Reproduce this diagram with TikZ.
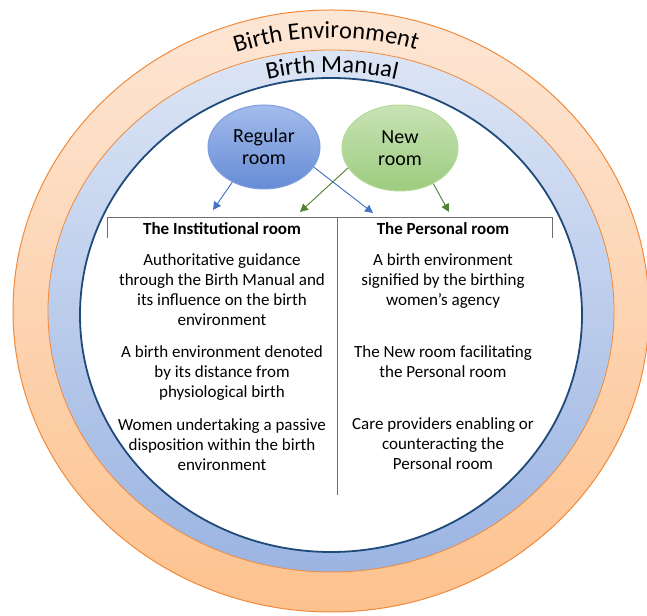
\documentclass[tikz,border=0pt]{standalone}
\usepackage{fontspec}
\setmainfont{Carlito}
\usetikzlibrary{decorations.text, arrows.meta, shapes.geometric}

\definecolor{orline}{HTML}{F08A3C}
\definecolor{ortop}{HTML}{FDE6D5}
\definecolor{orbot}{HTML}{FDC28E}
\definecolor{bltop}{HTML}{DCE5F5}
\definecolor{blbot}{HTML}{9BB4E2}
\definecolor{navy}{HTML}{1F4A7A}
\definecolor{regtop}{HTML}{A3BCEB}
\definecolor{regbot}{HTML}{668BD6}
\definecolor{regline}{HTML}{7E9EE0}
\definecolor{newtop}{HTML}{C8E3B5}
\definecolor{newbot}{HTML}{9CCB7E}
\definecolor{newline}{HTML}{B4DA9B}
\definecolor{barrow}{HTML}{4472C4}
\definecolor{garrow}{HTML}{548235}
\definecolor{tline}{HTML}{6E6E6E}

\tikzset{
  roomreg/.style={ellipse, minimum width=112pt, minimum height=84pt, inner sep=0pt,
    top color=regtop, bottom color=regbot, draw=regline, line width=1pt,
    align=center, font=\fontsize{20}{22}\selectfont},
  roomnew/.style={ellipse, minimum width=116pt, minimum height=86pt, inner sep=0pt,
    top color=newtop, bottom color=newbot, draw=newline, line width=1pt,
    align=center, font=\fontsize{20}{22}\selectfont},
  barr/.style={draw=barrow, line width=0.9pt, -{Triangle[length=8pt,width=8pt]}, fill=barrow},
  garr/.style={draw=garrow, line width=0.9pt, -{Triangle[length=8pt,width=8pt]}, fill=garrow},
  tab/.style={draw=tline, line width=0.9pt},
  body/.style={align=center, inner sep=0pt, font=\fontsize{17}{20}\selectfont},
  head/.style={align=center, inner sep=0pt, font=\fontsize{17}{20}\selectfont\bfseries},
}

\begin{document}
\begin{tikzpicture}[x=1pt,y=1pt]
\useasboundingbox (0,0) rectangle (647,615);

% rings
\path[top color=ortop, bottom color=orbot, draw=orline, line width=1pt]
  (331,304) ellipse [x radius=318, y radius=301];
\path[top color=bltop, bottom color=blbot, draw=orline, line width=0.8pt]
  (331,304) ellipse [x radius=283, y radius=261];
\path[fill=white, draw=navy, line width=1.8pt]
  (331,300) ellipse [x radius=251, y radius=237];

% curved labels
\path[decorate, decoration={text along path, text align=center,
   text={|\fontsize{24.5}{24}\selectfont|Birth Environment}}]
  (331,304) ++(127:290 and 273) arc[start angle=127, end angle=55, x radius=290, y radius=273];
\path[decorate, decoration={text along path, text align=center,
   text={|\fontsize{24.5}{24}\selectfont|Birth Manual}}]
  (332,304) ++(125:261 and 239) arc[start angle=125, end angle=55, x radius=261, y radius=239];

% rooms
\node[roomreg] (reg) at (264,468) {Regular\\room};
\node[roomnew] (new) at (400,467) {New\\room};

% arrow ends
\coordinate (a1) at (213,405);
\coordinate (a2) at (373,402);
\coordinate (a3) at (300,403);
\coordinate (a4) at (449,403);

\draw[barr] (reg.228) -- (a1);
\draw[barr] (reg.338) -- (a2);
\draw[garr] (new.201) -- (a3);
\draw[garr] (new.313) -- (a4);

% table lines
\coordinate (tl) at (107,377);
\coordinate (tlt) at (107,398);
\coordinate (trt) at (552,398);
\coordinate (tr) at (552,377);
\coordinate (mt) at (337,398);
\coordinate (mb) at (337,120);
\draw[tab] (tl) -- (tlt) -- (trt) -- (tr);
\draw[tab] (mt) -- (mb);

% headers
\node[head] (h1) at (222,384) {\strut The Institutional room};
\node[head] (h2) at (443,384) {\strut The Personal room};

% left column
\node[body] (l1) at (222,323) {\strut Authoritative guidance\\through the Birth Manual and\\its influence on the birth\\environment\strut};
\node[body] (l2) at (222,241) {\strut A birth environment denoted\\by its distance from\\physiological birth\strut};
\node[body] (l3) at (222,168.5) {\strut Women undertaking a passive\\disposition within the birth\\environment\strut};

% right column
\node[body] (r1) at (443,333) {\strut A birth environment\\signified by the birthing\\women’s agency\strut};
\node[body] (r2) at (443,251) {\strut The New room facilitating\\the Personal room\strut};
\node[body] (r3) at (443,169) {\strut Care providers enabling or\\counteracting the\\Personal room\strut};
\end{tikzpicture}
\end{document}
